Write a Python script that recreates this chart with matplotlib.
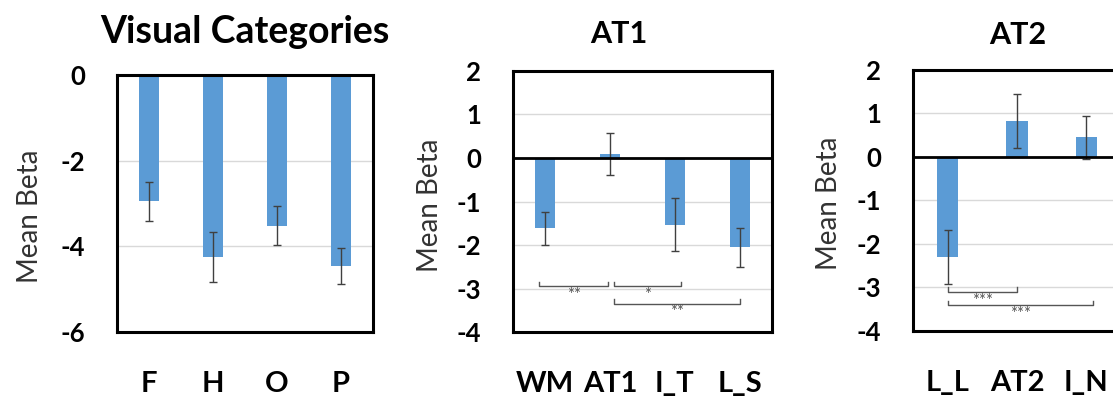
import matplotlib.pyplot as plt
import numpy as np

plt.rcParams['font.family'] = ['Lato', 'DejaVu Sans']

vis_labels = ['F', 'H', 'O', 'P']
vis_means = [-2.95, -4.25, -3.52, -4.47]
vis_err = [0.46, 0.58, 0.46, 0.42]

at1_labels = ['WM', 'AT1', 'I_T', 'L_S']
at1_means = [-1.62, 0.1, -1.53, -2.05]
at1_err = [0.38, 0.48, 0.6, 0.45]
at1_sig = [(0, 1, '**'), (1, 2, '*'), (1, 3, '**')]

at2_labels = ['L_L', 'AT2', 'I_N']
at2_means = [-2.3, 0.82, 0.45]
at2_err = [0.62, 0.62, 0.5]
at2_sig = [(0, 1, '***'), (0, 2, '***')]

BLUE = '#5B9BD5'


def bar_panel(ax, labels, means, err, ylim, yticks, title, tsize, tpad, title_x, ylab_xy):
    x = np.arange(len(labels))
    ax.bar(x, means, width=0.31, color=BLUE, zorder=2)
    ax.errorbar(x, means, yerr=err, fmt='none', ecolor='#404040',
                elinewidth=1, capsize=3, capthick=1, zorder=3)
    ax.set_xlim(-0.5, len(labels) - 0.5)
    ax.set_ylim(*ylim)
    ax.set_yticks(yticks)
    ax.set_yticklabels([str(t) for t in yticks], fontsize=18.5, fontweight='bold')
    ax.set_xticks(x)
    ax.set_xticklabels(labels, fontsize=21, fontweight='bold')
    ax.tick_params(axis='both', length=0)
    ax.tick_params(axis='y', pad=23)
    ax.tick_params(axis='x', pad=28)
    ax.yaxis.grid(True, color='#d9d9d9', linewidth=1, zorder=0)
    ax.set_axisbelow(True)
    for s in ax.spines.values():
        s.set_linewidth(2.2)
        s.set_color('black')
    if ylim[0] < 0 < ylim[1]:
        ax.axhline(0, color='black', linewidth=2, zorder=4)
    ax.set_title(title, fontsize=tsize, fontweight='bold', x=title_x, pad=tpad)
    ax.set_ylabel('Mean Beta', fontsize=20, color='#333333')
    ax.yaxis.set_label_coords(*ylab_xy)


def brackets(ax, sig, levels, offsets):
    # significance bars: small upturned ends, stars just below
    for (i, j, stars), y, (d0, d1) in zip(sig, levels, offsets):
        x0, x1 = i + d0, j + d1
        ax.plot([x0, x0, x1, x1], [y + 0.1, y, y, y + 0.1],
                color='#555555', linewidth=1, zorder=3)
        ax.text((x0 + x1) / 2, y - 0.2, stars, ha='center', va='center',
                fontsize=12, color='#555555')


fig = plt.figure(figsize=(11.13, 4.01), dpi=100)

ax1 = fig.add_axes([0.1051, 0.172, 0.230, 0.641])
bar_panel(ax1, vis_labels, vis_means, vis_err, (-6, 0), [0, -2, -4, -6],
          'Visual Categories', 27, 23, 0.5, (-0.29, 0.45))

ax2 = fig.add_axes([0.4609, 0.172, 0.2327, 0.651])
bar_panel(ax2, at1_labels, at1_means, at1_err, (-4, 2), [2, 1, 0, -1, -2, -3, -4],
          'AT1', 22, 20, 0.41, (-0.27, 0.487))
brackets(ax2, at1_sig, [-2.95, -2.95, -3.35], [(-0.1, -0.03), (0.06, 0.1), (0.06, 0.0)])

ax3 = fig.add_axes([0.8203, 0.1746, 0.1869, 0.651])
bar_panel(ax3, at2_labels, at2_means, at2_err, (-4, 2), [2, 1, 0, -1, -2, -3, -4],
          'AT2', 22, 19, 0.505, (-0.34, 0.49))
brackets(ax3, at2_sig, [-3.1, -3.4], [(0.0, 0.0), (0.0, 0.1)])

fig.savefig('out.png', dpi=100)
